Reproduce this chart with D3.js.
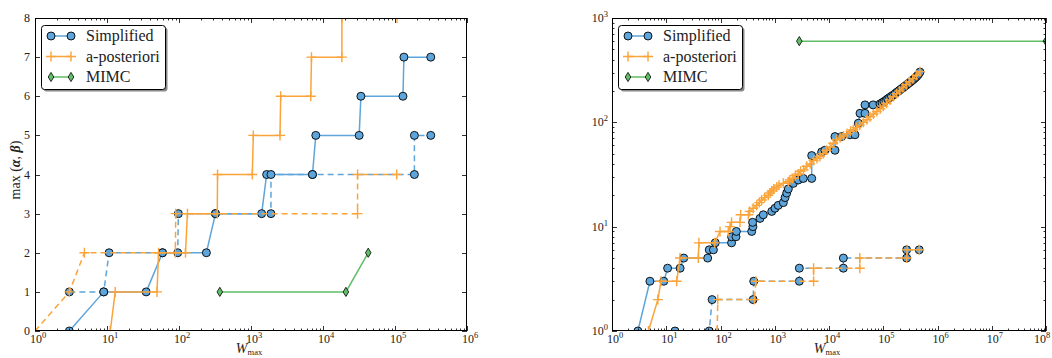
<!DOCTYPE html>
<html><head><meta charset="utf-8">
<script src="https://cdn.jsdelivr.net/npm/d3@7"></script>
<style>body{margin:0;background:#fff} svg{display:block} text{font-family:"Liberation Serif","DejaVu Serif",serif;fill:#222}</style>
</head><body><svg id="c" width="1052" height="358"></svg>
<script>
// ---------- data ----------
const seriesNames = ["Simplified", "a-posteriori", "MIMC"];
const leftXExponents = [0,1,2,3,4,5,6];
const leftYTicks = [0,1,2,3,4,5,6,7,8];
const rightXExponents = [0,1,2,3,4,5,6,7,8];
const rightYExponents = [0,1,2,3];

// left panel: [W_max, max(alpha,beta)]
const leftSimplifiedSolid = [[3,0],[9,1],[35,1],[59,2],[240,2],[321,3],[1405,3],[1650,4],[7140,4],[7940,5],[31800,5],[33600,6],[129000,6],[133000,7],[314000,7]];
const leftSimplifiedDashed = [[3,1],[9,1],[10.7,2],[59,2],[96,2],[98,3],[321,3],[1893,3],[1893,4],[7140,4],[186000,4],[186000,5],[314000,5]];
const leftPosterioriSolid = [[1,0],[11.1,0],[13,1],[49.5,1],[52,2],[123,2],[131,3],[340,3],[343,4],[1042,4],[1077,5],[2528,5],[2584,6],[6760,6],[6920,7],[18300,7],[18300,8],[106600,8]];
const leftPosterioriDashed = [[1,0],[3,1],[4.86,2],[89,2],[90,3],[30200,3],[30200,4],[105700,4]];
const leftMIMC = [[369,1],[20800,1],[42500,2]];

// right panel
const rightSimplifiedSolid = [[3,1],[5,3],[9,3],[10.6,4],[18,4],[21,5],[58,5],[62,6],[74,6],[80,7],[160,7],[160,8],[193,8],[196,9],[376,9],[396,10],[390,11],[535,12],[615,13],[880,14],[1010,15],[1160,16],[1440,17],[1550,19],[1660,21],[1780,23],[2200,26],[2720,28],[3360,29],[4800,29],[4800,48],[7330,52],[8400,54],[12900,54],[12900,73],[17100,73],[24400,76],[30100,76],[34700,98],[37300,122],[46100,122],[46100,147],[65000,147],[87000,150],[95000,154],[103000,158],[112000,163],[121000,168],[131000,173],[142000,178],[154000,183],[166000,189],[180000,195],[195000,201],[210000,207],[227000,213],[245000,220],[265000,227],[285000,234],[308000,241],[332000,249],[358000,257],[386000,266],[416000,276],[445000,288],[475000,303]];
const rightSimplifiedDashed = [[14.5,1],[62,1],[70,2],[400,2],[410,3],[2840,3],[2840,4],[18400,4],[18400,5],[270000,5],[270000,6],[460000,6]];
const rightPosterioriSolid = [[4.7,1],[7,2],[8,3],[15.6,3],[17.9,5],[39,5],[40,7],[78,7],[98,9],[139,9],[150,10],[160,11],[229,11],[235,13],[326,13],[345,14],[400,15],[465,16],[520,17],[575,18],[650,19],[760,20],[820,21],[880,22],[960,23],[1090,24],[1200,25],[1440,26],[1780,27],[1900,28],[2100,29],[2400,31],[2700,32],[3000,34],[3400,35],[3900,38],[4500,40],[5200,43],[6000,45],[6800,47],[7800,50],[9000,54],[10500,58],[12000,63],[13900,68],[16000,71],[18500,74],[21500,78],[25000,82],[28000,85],[32000,89],[37000,94],[43000,100],[50000,106],[57000,113],[66000,120],[76000,127],[88000,135],[100000,143],[115000,152],[133000,164],[153000,176],[175000,188],[200000,200],[230000,214],[265000,229],[305000,245],[350000,262],[410000,283],[475000,306]];
const rightPosterioriDashed = [[87,1],[89,2],[420,2],[450,3],[5200,3],[5200,4],[37000,4],[37000,5],[270000,5],[275000,6],[460000,6]];
const rightMIMC = [[2836,600],[1e8,600]];

// ---------- style ----------
const BLUE = "#5DA5DA", ORANGE = "#FAA43A", GREEN = "#60BD68";
const svg = d3.select("#c");

function supLabel(g, x, y, exp, anchor) {
  const t = g.append("text").attr("x", x).attr("y", y).attr("text-anchor", anchor).style("font-size", "12px");
  t.append("tspan").text("10");
  t.append("tspan").attr("dy", -5).style("font-size", "8.5px").text(exp);
}

function drawMarkers(g, data, x, y, type) {
  const sel = g.selectAll(null).data(data).enter();
  if (type === "circle") {
    sel.append("circle").attr("cx", d => x(d[0])).attr("cy", d => y(d[1])).attr("r", 4)
      .attr("fill", BLUE).attr("stroke", "#000").attr("stroke-width", 0.9);
  } else if (type === "plus") {
    sel.append("path").attr("transform", d => `translate(${x(d[0])},${y(d[1])})`)
      .attr("d", "M-5,0H5M0,-5V5").attr("stroke", ORANGE).attr("stroke-width", 1.4).attr("fill", "none");
  } else {
    sel.append("path").attr("transform", d => `translate(${x(d[0])},${y(d[1])})`)
      .attr("d", "M0,-4.6L2.8,0L0,4.6L-2.8,0Z").attr("fill", GREEN).attr("stroke", "#000").attr("stroke-width", 0.8);
  }
}

function drawSeries(g, data, x, y, color, dashed, marker) {
  const line = d3.line().x(d => x(d[0])).y(d => y(d[1]));
  g.append("path").datum(data).attr("d", line).attr("fill", "none").attr("stroke", color)
    .attr("stroke-width", 1.5).attr("stroke-dasharray", dashed ? "6,4" : null);
  drawMarkers(g, data, x, y, marker);
}

function panel(cfg) {
  const {x0, x1, yT, yB, id} = cfg;
  const x = d3.scaleLog().domain(cfg.xDomain).range([x0, x1]);
  const y = cfg.yLog ? d3.scaleLog().domain(cfg.yDomain).range([yB, yT]) : d3.scaleLinear().domain(cfg.yDomain).range([yB, yT]);
  const g = svg.append("g");
  svg.append("clipPath").attr("id", "clip" + id).append("rect").attr("x", x0).attr("y", yT).attr("width", x1 - x0).attr("height", yB - yT);
  const pg = g.append("g").attr("clip-path", `url(#clip${id})`);

  cfg.series.forEach(s => drawSeries(pg, s.data, x, y, s.color, s.dashed, s.marker));

  // ticks
  const tg = g.append("g").attr("stroke", "#000").attr("stroke-width", 0.8);
  x.ticks().forEach(v => {
    const e = Math.log10(v), major = Math.abs(e - Math.round(e)) < 1e-9;
    const L = major ? 5 : 2.5, px = Math.round(x(v)) + 0.5;
    tg.append("line").attr("x1", px).attr("x2", px).attr("y1", yB).attr("y2", yB - L);
    tg.append("line").attr("x1", px).attr("x2", px).attr("y1", yT).attr("y2", yT + L);
  });
  cfg.xExponents.forEach(e => {
    let lx = x(Math.pow(10, e)) + 3;
    if (lx + 9 > 1051) lx = 1051 - 9;
    supLabel(g, lx, yB + 12, e, "middle");
  });

  if (cfg.yLog) {
    y.ticks().forEach(v => {
      const e = Math.log10(v), major = Math.abs(e - Math.round(e)) < 1e-9;
      const L = major ? 5 : 2.5, py = Math.round(y(v)) + 0.5;
      tg.append("line").attr("x1", x0).attr("x2", x0 + L).attr("y1", py).attr("y2", py);
      tg.append("line").attr("x1", x1).attr("x2", x1 - L).attr("y1", py).attr("y2", py);
    });
    cfg.yExponents.forEach(e => supLabel(g, x0 - 4, y(Math.pow(10, e)) + 4, e, "end"));
  } else {
    cfg.yTicks.forEach(v => {
      const py = Math.round(y(v)) + 0.5;
      tg.append("line").attr("x1", x0).attr("x2", x0 + 5).attr("y1", py).attr("y2", py);
      tg.append("line").attr("x1", x1).attr("x2", x1 - 5).attr("y1", py).attr("y2", py);
      g.append("text").attr("x", x0 - 5).attr("y", y(v) + 4).attr("text-anchor", "end").style("font-size", "12px").text(v);
    });
  }

  g.append("rect").attr("x", x0 + 0.5).attr("y", yT + 0.5).attr("width", x1 - x0 - 1).attr("height", yB - yT - 1)
    .attr("fill", "none").attr("stroke", "#000").attr("stroke-width", 1);

  // x label
  const xl = g.append("text").attr("x", (x0 + x1) / 2 - 2).attr("y", yB + 22).attr("text-anchor", "middle");
  xl.append("tspan").style("font-style", "italic").style("font-size", "14px").text("W");
  xl.append("tspan").attr("dy", 2).style("font-size", "8.5px").text("max");

  // legend
  const lx = x0 + 6, ly = 25, lw = 124, lh = 64;
  g.append("rect").attr("x", lx + 2.5).attr("y", ly + 2.5).attr("width", lw).attr("height", lh).attr("rx", 3).attr("fill", "#888");
  g.append("rect").attr("x", lx + 0.5).attr("y", ly + 0.5).attr("width", lw).attr("height", lh).attr("rx", 3).attr("fill", "#fff").attr("stroke", "#000").attr("stroke-width", 1);
  const items = [
    {name: seriesNames[0], color: BLUE, marker: "circle"},
    {name: seriesNames[1], color: ORANGE, marker: "plus"},
    {name: seriesNames[2], color: GREEN, marker: "diamond"}
  ];
  items.forEach((it, i) => {
    const cy = ly + 11 + i * 20.5;
    const xs = d3.scaleLinear().domain([0, 1]).range([lx + 10, lx + 30]);
    const ys = d3.scaleLinear().domain([0, 1]).range([cy, cy]);
    const lg = g.append("g");
    drawSeries(lg, [[0, 0], [1, 0]], xs, ys, it.color, false, it.marker);
    g.append("text").attr("x", lx + 45).attr("y", cy + 5).style("font-size", "16px").text(it.name);
  });
  return g;
}

panel({
  id: "L", x0: 35, x1: 467, yT: 18, yB: 331, xDomain: [1, 1e6], yDomain: [0, 8], yLog: false,
  xExponents: leftXExponents, yTicks: leftYTicks,
  series: [
    {data: leftSimplifiedSolid, color: BLUE, dashed: false, marker: "circle"},
    {data: leftSimplifiedDashed, color: BLUE, dashed: true, marker: "circle"},
    {data: leftPosterioriSolid, color: ORANGE, dashed: false, marker: "plus"},
    {data: leftPosterioriDashed, color: ORANGE, dashed: true, marker: "plus"},
    {data: leftMIMC, color: GREEN, dashed: false, marker: "diamond"}
  ]
});
panel({
  id: "R", x0: 612, x1: 1046, yT: 18, yB: 331, xDomain: [1, 1e8], yDomain: [1, 1000], yLog: true,
  xExponents: rightXExponents, yExponents: rightYExponents,
  series: [
    {data: rightSimplifiedSolid, color: BLUE, dashed: false, marker: "circle"},
    {data: rightSimplifiedDashed, color: BLUE, dashed: true, marker: "circle"},
    {data: rightPosterioriSolid, color: ORANGE, dashed: false, marker: "plus"},
    {data: rightPosterioriDashed, color: ORANGE, dashed: true, marker: "plus"},
    {data: rightMIMC, color: GREEN, dashed: false, marker: "diamond"}
  ]
});

// y label left
const yl = svg.append("text").attr("transform", "translate(20,170) rotate(-90)").attr("text-anchor", "middle").style("font-size", "14px");
yl.append("tspan").text("max (");
yl.append("tspan").style("font-style", "italic").style("font-weight", "bold").text("α");
yl.append("tspan").text(", ");
yl.append("tspan").style("font-style", "italic").style("font-weight", "bold").text("β");
yl.append("tspan").text(")");
</script></body></html>
